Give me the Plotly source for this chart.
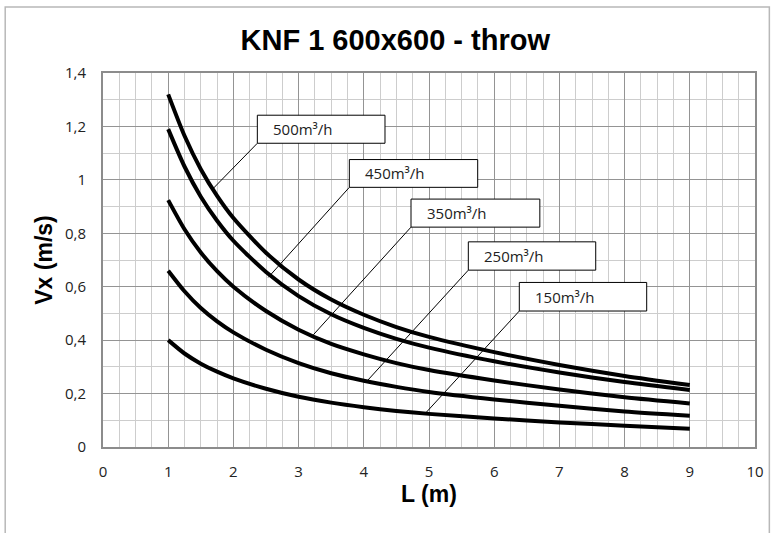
import plotly.graph_objects as go

# ---- data ----
L_m = [1, 1.25, 1.5, 1.75, 2, 2.5, 3, 3.5, 4, 4.5, 5, 6, 7, 8, 9]
v_500 = [1.32, 1.165, 1.04, 0.94, 0.857, 0.727, 0.627, 0.552, 0.495, 0.449, 0.412, 0.355, 0.307, 0.266, 0.232]
v_450 = [1.19, 1.05, 0.937, 0.847, 0.772, 0.655, 0.565, 0.497, 0.446, 0.405, 0.372, 0.321, 0.279, 0.243, 0.213]
v_350 = [0.924, 0.815, 0.728, 0.658, 0.60, 0.509, 0.439, 0.386, 0.347, 0.314, 0.288, 0.249, 0.215, 0.186, 0.163]
v_250 = [0.66, 0.583, 0.52, 0.47, 0.429, 0.364, 0.314, 0.276, 0.248, 0.225, 0.206, 0.178, 0.154, 0.133, 0.117]
v_150 = [0.40, 0.35, 0.312, 0.282, 0.257, 0.218, 0.188, 0.166, 0.149, 0.135, 0.124, 0.107, 0.092, 0.08, 0.068]
series_names = ["500m³/h", "450m³/h", "350m³/h", "250m³/h", "150m³/h"]
series_vals = [v_500, v_450, v_350, v_250, v_150]

x_ticks = [0, 1, 2, 3, 4, 5, 6, 7, 8, 9, 10]
x_ticktext = ["0", "1", "2", "3", "4", "5", "6", "7", "8", "9", "10"]
y_ticks = [0, 0.2, 0.4, 0.6, 0.8, 1.0, 1.2, 1.4]
y_ticktext = ["0", "0,2", "0,4", "0,6", "0,8", "1", "1,2", "1,4"]

# label placement (box x0, x1, y_bottom, y_top; leader target point on curve)
label_boxes = [
    (2.367, 4.325, 1.137, 1.242, 1.667, 0.962),
    (3.778, 5.747, 0.972, 1.076, 2.535, 0.635),
    (4.724, 6.700, 0.823, 0.928, 3.226, 0.420),
    (5.603, 7.557, 0.662, 0.768, 4.050, 0.247),
    (6.385, 8.339, 0.509, 0.616, 4.940, 0.125),
]

fig = go.Figure()
for name, vals in zip(series_names, series_vals):
    fig.add_trace(go.Scatter(x=L_m, y=vals, mode="lines", name=name,
                             line=dict(color="black", width=4, shape="spline", smoothing=0.7),
                             showlegend=False, hoverinfo="skip"))

shapes = []
annotations = []
for name, (bx0, bx1, by0, by1, tx, ty) in zip(series_names, label_boxes):
    shapes.append(dict(type="line", xref="x", yref="y", x0=bx0, y0=by0, x1=tx, y1=ty,
                       line=dict(color="black", width=1)))
    shapes.append(dict(type="rect", xref="x", yref="y", x0=bx0, x1=bx1, y0=by0, y1=by1,
                       fillcolor="white", line=dict(color="black", width=1)))
    annotations.append(dict(x=bx0 + 0.21, y=(by0 + by1) / 2, xref="x", yref="y", text=name,
                            showarrow=False, xanchor="left", yanchor="middle",
                            font=dict(family="Open Sans", size=15, color="#222")))

# outer chart border
shapes.append(dict(type="rect", xref="paper", yref="paper", x0=-0.150, x1=1.022, y0=-0.26, y1=1.1765,
                   line=dict(color="#b8b8b8", width=1.5), fillcolor="rgba(0,0,0,0)", layer="below"))

axis_common = dict(showline=True, mirror=True, linecolor="#8c8c8c", linewidth=2,
                   gridcolor="#949494", gridwidth=1.4, zeroline=False, ticks="",
                   automargin=False,
                   tickfont=dict(family="Open Sans", size=15, color="#222"))

fig.update_layout(
    width=775, height=533,
    margin=dict(l=103, r=20, t=73, b=86),
    paper_bgcolor="white", plot_bgcolor="white",
    title=dict(text="<b>KNF 1 600x600 - throw</b>", x=0.51, xanchor="center", xref="container",
               y=0.925, yanchor="middle", automargin=False,
               font=dict(family="Liberation Sans", size=29, color="black")),
    xaxis=dict(range=[0, 10], tickvals=x_ticks, ticktext=x_ticktext, ticklabelstandoff=10,
               minor=dict(tickmode="linear", dtick=0.25, tick0=0, showgrid=True, gridcolor="#cdcdcd", gridwidth=1),
               title=dict(text="<b>L (m)</b>", font=dict(family="Liberation Sans", size=23, color="black"), standoff=6),
               **axis_common),
    yaxis=dict(range=[0, 1.4], tickvals=y_ticks, ticktext=y_ticktext, ticklabelstandoff=12,
               minor=dict(tickmode="linear", dtick=0.1, tick0=0, showgrid=True, gridcolor="#cdcdcd", gridwidth=1),
               title=dict(text="<b>Vx (m/s)</b>", font=dict(family="Liberation Sans", size=23, color="black"), standoff=6),
               **axis_common),
    shapes=shapes,
    annotations=annotations,
)

fig.write_html("out.html", config={"displayModeBar": False},
               post_script="document.body.style.margin='0px';")
